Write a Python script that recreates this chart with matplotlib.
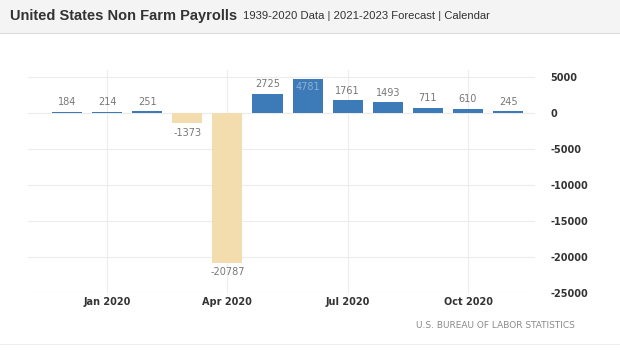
import numpy as np
import matplotlib.pyplot as plt
from matplotlib.patches import Rectangle

months = ["Dec 2019", "Jan 2020", "Feb 2020", "Mar 2020", "Apr 2020", "May 2020",
          "Jun 2020", "Jul 2020", "Aug 2020", "Sep 2020", "Oct 2020", "Nov 2020"]
payrolls = [184, 214, 251, -1373, -20787, 2725, 4781, 1761, 1493, 711, 610, 245]
tick_labels = ["Jan 2020", "Apr 2020", "Jul 2020", "Oct 2020"]
y_ticks = [5000, 0, -5000, -10000, -15000, -20000, -25000]

blue = "#3d7ab8"
tan = "#f3dcae"

fig = plt.figure(figsize=(6.2, 3.55), dpi=100)
fig.patch.set_facecolor("white")

# header bar
fig.patches.append(Rectangle((0, 1 - 33 / 355), 1, 33 / 355, transform=fig.transFigure,
                             facecolor="#f4f4f4", edgecolor="none", zorder=0))
fig.add_artist(plt.Line2D([0, 1], [1 - 33 / 355] * 2, color="#dcdcdc", lw=0.8))
fig.add_artist(plt.Line2D([0, 1], [1 - 344 / 355] * 2, color="#eeeeee", lw=0.8))
fig.text(10 / 620, 1 - 16 / 355, "United States Non Farm Payrolls", fontsize=10.5,
         fontweight="bold", family="Liberation Sans", color="#333333", va="center")
fig.text(243 / 620, 1 - 16 / 355, "1939-2020 Data | 2021-2023 Forecast | Calendar",
         fontsize=8.1, family="Liberation Sans", color="#333333", va="center")

ax = fig.add_axes([28 / 620, 1 - 293 / 355, (535 - 28) / 620, (293 - 70) / 355])
x = np.arange(len(months))
colors = [blue if v >= 0 else tan for v in payrolls]
ax.bar(x, payrolls, width=0.75, color=colors, zorder=2)

for xi, v in zip(x, payrolls):
    if v >= 4000:
        ax.annotate(str(v), (xi, v), xytext=(0, -6), textcoords="offset points",
                    ha="center", va="center", fontsize=7, color="#8fb0d2")
    elif v >= 0:
        ax.annotate(str(v), (xi, v), xytext=(0, 7), textcoords="offset points",
                    ha="center", va="center", fontsize=7, color="#777777")
    else:
        ax.annotate(str(v), (xi, v), xytext=(0, -7), textcoords="offset points",
                    ha="center", va="center", fontsize=7, color="#777777")

ax.set_xlim(-0.97, 11.67)
ax.set_ylim(-25000, 6000)
ax.set_xticks([months.index(m) for m in tick_labels])
ax.set_xticklabels(tick_labels)
ax.set_yticks(y_ticks)
ax.set_yticklabels([str(t) for t in y_ticks])
ax.yaxis.tick_right()
ax.tick_params(axis="y", length=0, pad=11, labelsize=7, labelcolor="#333333")
ax.tick_params(axis="x", length=0, pad=3, labelsize=7, labelcolor="#333333")
for lab in ax.get_yticklabels() + ax.get_xticklabels():
    lab.set_fontweight("bold")
ax.grid(True, color="#ececec", lw=0.8, zorder=0)
for s in ax.spines.values():
    s.set_visible(False)

fig.text(575 / 620, 1 - 326 / 355, "U.S. BUREAU OF LABOR STATISTICS", fontsize=6.5,
         color="#8a8a8a", ha="right", va="center")

fig.savefig("out.png", dpi=100)
